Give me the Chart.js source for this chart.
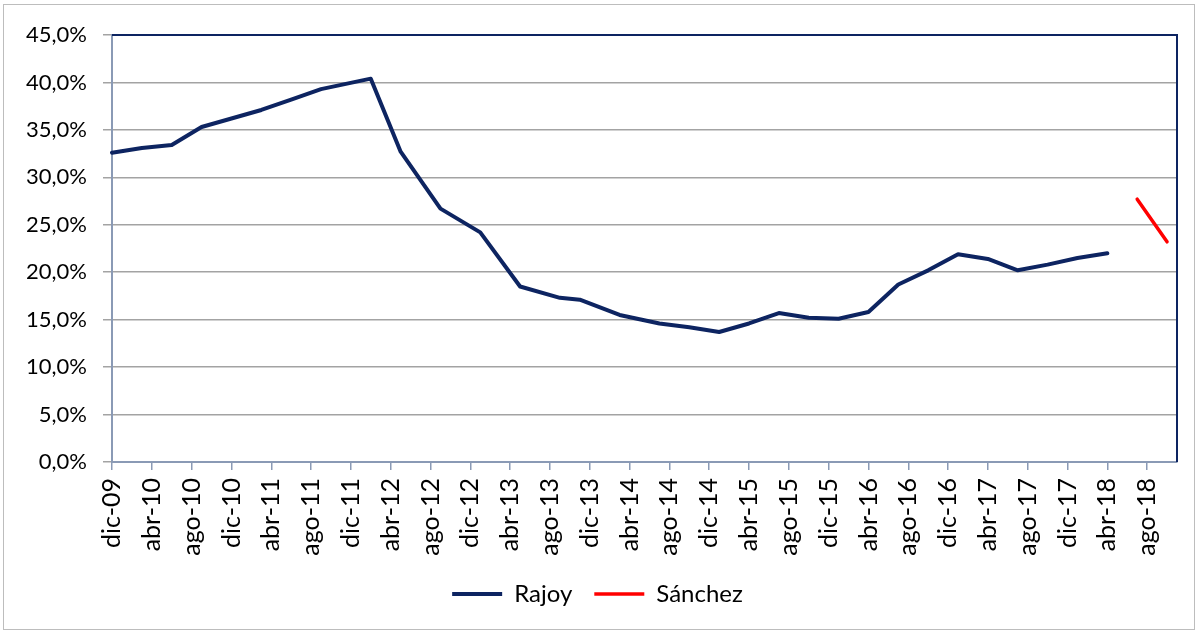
<!DOCTYPE html>
<html>
<head>
<meta charset="utf-8">
<script src="https://cdn.jsdelivr.net/npm/chart.js@4"></script>
<style>
  html, body { margin: 0; padding: 0; background: #fff; }
  canvas { display: block; }
</style>
</head>
<body>
<canvas id="chart" width="1198" height="633"></canvas>
<script>
// Meses del eje (dic-09 ... nov-18), etiqueta visible cada 4 meses
const monthNames = ['ene', 'feb', 'mar', 'abr', 'may', 'jun', 'jul', 'ago', 'sep', 'oct', 'nov', 'dic'];
const firstYear = 2009, firstMonth = 11, monthCount = 108;

// Serie Rajoy
const rajoyDates = ['dic-09', 'mar-10', 'jun-10', 'sep-10', 'dic-10', 'mar-11', 'jun-11', 'sep-11',
  'feb-12', 'may-12', 'sep-12', 'ene-13', 'may-13', 'sep-13', 'nov-13', 'mar-14', 'jul-14', 'oct-14',
  'ene-15', 'abr-15', 'jul-15', 'oct-15', 'ene-16', 'abr-16', 'jul-16', 'oct-16', 'ene-17', 'abr-17',
  'jul-17', 'oct-17', 'ene-18', 'abr-18'];
const rajoyValues = [32.6, 33.1, 33.4, 35.3, 36.2, 37.1, 38.2, 39.3,
  40.4, 32.7, 26.7, 24.2, 18.5, 17.3, 17.1, 15.5, 14.6, 14.2,
  13.7, 14.6, 15.7, 15.2, 15.1, 15.8, 18.7, 20.2, 21.9, 21.4,
  20.2, 20.8, 21.5, 22.0];

// Serie Sánchez
const sanchezDates = ['jul-18', 'oct-18'];
const sanchezValues = [27.7, 23.2];

const yTicks = [0, 5, 10, 15, 20, 25, 30, 35, 40, 45];

const labels = [];
for (let i = 0; i < monthCount; i++) {
    const m = (firstMonth + i) % 12;
    const y = firstYear + Math.floor((firstMonth + i) / 12);
    labels.push(monthNames[m] + '-' + String(y % 100).padStart(2, '0'));
}

const toPoints = (dates, values) => dates.map((d, i) => ({ x: d, y: values[i] }));

const FONT = 'Lato, "Open Sans", sans-serif';
const axisGrey = '#8a9ab5';
const navy = '#0d2461';

// Marco exterior y borde superior/derecho del área de trazado
const frames = {
    id: 'frames',
    beforeDraw(chart) {
        const c = chart.ctx;
        c.save();
        c.fillStyle = '#fff';
        c.fillRect(0, 0, chart.width, chart.height);
        c.strokeStyle = '#bdbdbd';
        c.lineWidth = 1;
        c.strokeRect(3.5, 4.5, chart.width - 7, chart.height - 8);
        c.restore();
    },
    beforeDatasetsDraw(chart) {
        const a = chart.chartArea;
        const c = chart.ctx;
        c.save();
        c.strokeStyle = navy;
        c.lineWidth = 2;
        c.beginPath();
        c.moveTo(a.left, a.top);
        c.lineTo(a.right, a.top);
        c.lineTo(a.right, a.bottom);
        c.stroke();
        c.restore();
    }
};

new Chart(document.getElementById('chart'), {
    type: 'line',
    data: {
        labels: labels,
        datasets: [
            {
                label: 'Rajoy',
                data: toPoints(rajoyDates, rajoyValues),
                borderColor: navy,
                backgroundColor: navy,
                borderWidth: 4,
                pointRadius: 0,
                tension: 0,
                borderJoinStyle: 'round',
                borderCapStyle: 'round'
            },
            {
                label: 'Sánchez',
                data: toPoints(sanchezDates, sanchezValues),
                borderColor: '#ff0000',
                backgroundColor: '#ff0000',
                borderWidth: 3.5,
                pointRadius: 0,
                tension: 0,
                borderCapStyle: 'round'
            }
        ]
    },
    options: {
        responsive: false,
        animation: false,
        layout: { padding: { top: 35, left: 18, right: 21, bottom: 17 } },
        scales: {
            x: {
                type: 'category',
                offset: false,
                afterFit: (scale) => { scale.height = 98; },
                grid: { drawOnChartArea: false, tickLength: 8, color: axisGrey, lineWidth: 1.5 },
                border: { color: axisGrey, width: 2 },
                ticks: {
                    autoSkip: false,
                    minRotation: 90,
                    maxRotation: 90,
                    padding: 8,
                    color: '#000',
                    font: { family: FONT, size: 25 },
                    callback: function (value, index) {
                        return index % 4 === 0 ? labels[index] : null;
                    }
                }
            },
            y: {
                min: 0,
                max: 45,
                afterFit: (scale) => { scale.width = 112 - 18; },
                afterBuildTicks: (scale) => { scale.ticks = yTicks.map(v => ({ value: v })); },
                grid: { color: '#a3a3a3', lineWidth: 1.5, tickLength: 9 },
                border: { color: axisGrey, width: 2 },
                ticks: {
                    padding: 16,
                    color: '#000',
                    font: { family: FONT, size: 22 },
                    callback: (v) => v.toFixed(1).replace('.', ',') + '%'
                }
            }
        },
        plugins: {
            legend: {
                position: 'bottom',
                labels: {
                    usePointStyle: true,
                    pointStyle: 'line',
                    pointStyleWidth: 50,
                    padding: 22,
                    color: '#000',
                    font: { family: FONT, size: 24 }
                }
            },
            tooltip: { enabled: false }
        }
    },
    plugins: [frames]
});
</script>
</body>
</html>
